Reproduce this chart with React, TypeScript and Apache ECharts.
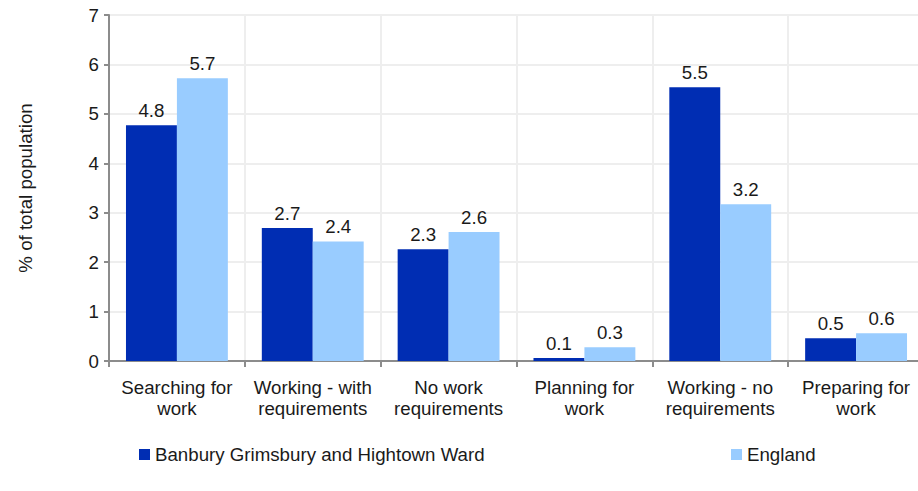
import React, { useEffect, useRef } from "react";
import * as echarts from "echarts";

const categories = [
  "Searching for\nwork",
  "Working - with\nrequirements",
  "No work\nrequirements",
  "Planning for\nwork",
  "Working - no\nrequirements",
  "Preparing for\nwork",
];
const wardName = "Banbury Grimsbury and Hightown Ward";
const englandName = "England";
const wardValues = [4.77, 2.69, 2.26, 0.06, 5.54, 0.46];
const englandValues = [5.72, 2.42, 2.61, 0.28, 3.17, 0.56];
const yTicks = { min: 0, max: 7, interval: 1 };

const FONT = "Liberation Sans, Arial, sans-serif";
const FS = 18.7;

export default function App() {
  const ref = useRef<HTMLDivElement>(null);
  useEffect(() => {
    if (!ref.current) return;
    const chart = echarts.init(ref.current, null, { renderer: "svg" });
    const label = {
      show: true,
      position: "top" as const,
      distance: 5,
      color: "#1a1a1a",
      fontSize: FS,
      fontFamily: FONT,
      formatter: (p: any) => Number(p.value).toFixed(1),
    };
    chart.setOption({
      animation: false,
      textStyle: { fontFamily: FONT },
      grid: { left: 109, top: 15, width: 815, bottom: 130, outerBoundsMode: "none", containLabel: false },
      legend: [
        {
          data: [wardName],
          left: 134,
          top: 440,
          itemWidth: 11,
          itemHeight: 11,
          icon: "rect",
          textStyle: { fontSize: FS, color: "#1a1a1a", fontFamily: FONT },
        },
        {
          data: [englandName],
          left: 726,
          top: 440,
          itemWidth: 11,
          itemHeight: 11,
          icon: "rect",
          textStyle: { fontSize: FS, color: "#1a1a1a", fontFamily: FONT },
        },
      ],
      xAxis: {
        type: "category",
        data: categories,
        axisLine: { lineStyle: { color: "#8c8c8c", width: 2 } },
        axisTick: { show: true, length: 6, lineStyle: { color: "#8c8c8c", width: 2 } },
        splitLine: { show: true, lineStyle: { color: "#eeeeee", width: 2 } },
        axisLabel: {
          color: "#1a1a1a",
          fontSize: FS,
          fontFamily: FONT,
          lineHeight: 21,
          margin: 16,
          interval: 0,
        },
      },
      yAxis: {
        type: "value",
        min: yTicks.min,
        max: yTicks.max,
        interval: yTicks.interval,
        name: "% of total population",
        nameLocation: "middle",
        nameRotate: 90,
        nameGap: 74,
        nameTextStyle: { fontSize: FS, color: "#1a1a1a", fontFamily: FONT },
        axisLine: { show: true, lineStyle: { color: "#8c8c8c", width: 2 } },
        axisTick: { show: true, length: 5, lineStyle: { color: "#8c8c8c", width: 2 } },
        splitLine: { show: true, lineStyle: { color: "#eeeeee", width: 2 } },
        axisLabel: { color: "#1a1a1a", fontSize: FS, fontFamily: FONT, margin: 10 },
      },
      series: [
        {
          name: wardName,
          type: "bar",
          data: wardValues,
          itemStyle: { color: "#002db3" },
          barGap: "0%",
          barCategoryGap: "25%",
          label,
        },
        {
          name: englandName,
          type: "bar",
          data: englandValues,
          itemStyle: { color: "#99ccff" },
          barGap: "0%",
          barCategoryGap: "25%",
          label,
        },
      ],
    });
    return () => chart.dispose();
  }, []);
  return <div ref={ref} style={{ width: 918, height: 491, position: "absolute", left: 0, top: 0 }} />;
}
